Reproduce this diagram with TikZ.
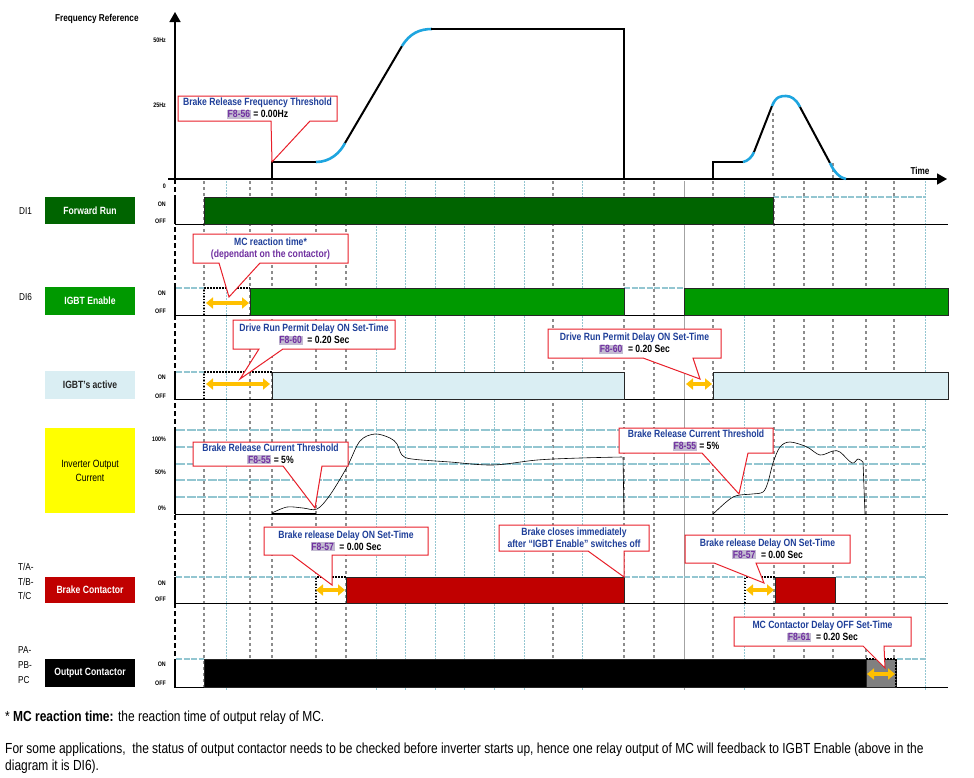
\documentclass[tikz,border=0pt]{standalone}
\usepackage{fontspec}
\setmainfont{Liberation Sans}[FakeStretch=0.82]
\usetikzlibrary{arrows.meta}
\definecolor{fwd}{HTML}{006400}
\definecolor{igbt}{HTML}{009900}
\definecolor{act}{HTML}{DAEEF3}
\definecolor{brk}{HTML}{C00000}
\definecolor{yel}{HTML}{FFFF00}
\definecolor{gteal}{HTML}{93C6D1}
\definecolor{gridgray}{HTML}{8C8C8C}
\definecolor{cblue}{HTML}{1F3F99}
\definecolor{pur}{HTML}{7030A0}
\definecolor{hl}{HTML}{C3BBD1}
\definecolor{sky}{HTML}{1EA5DF}
\definecolor{orng}{HTML}{FFC000}
\definecolor{cred}{HTML}{E8202A}
\newcommand\codebox[1]{{\fboxsep=0.8pt\colorbox{hl}{\textcolor{pur}{#1}}}}
\newcommand\callpath[8]{\draw[cbox] (#1,#2) -- (#3,#2) -- (#3,#4) -- (#6,#4) -- (#7,#8) -- (#5,#4) -- (#1,#4) -- cycle;}
\begin{document}
\begin{tikzpicture}[x=1pt,y=-1pt,
  gridd/.style={gridgray, line width=1.4pt, dash pattern=on 3pt off 3pt},
  gridt/.style={gteal, line width=0.9pt, dash pattern=on 1.5pt off 1.5pt},
  gridh/.style={gteal, line width=1.6pt, dash pattern=on 9pt off 1.5pt},
  onl/.style={gteal, line width=1.4pt, dash pattern=on 6pt off 1.5pt},
  base/.style={black, line width=1pt},
  bar/.style={draw=black!85, line width=0.7pt},
  dotbox/.style={black, line width=1.2pt, dash pattern=on 1.5pt off 1.5pt},
  lbox/.style={minimum width=90pt, inner sep=0pt, font=\fontsize{10.5}{12}\selectfont\bfseries, text=white},
  sig/.style={font=\fontsize{10}{12}\selectfont, anchor=west, inner sep=0pt},
  onoff/.style={font=\fontsize{6.5}{7}\selectfont\bfseries, anchor=east, inner sep=0pt},
  ylab/.style={font=\fontsize{6.5}{7}\selectfont\bfseries, anchor=east, inner sep=0pt},
  fline/.style={black, line width=2pt},
  bline/.style={sky, line width=2.6pt},
  cur/.style={black, line width=0.6pt},
  oarr/.style={orng, line width=3.5pt, {Triangle[length=7pt,width=11pt]}-{Triangle[length=7pt,width=11pt]}},
  cbox/.style={draw=cred, fill=white, line width=1pt},
  ctext/.style={align=center, font=\fontsize{10.5}{12}\selectfont\bfseries, text=cblue, inner sep=0pt},
  foot/.style={font=\fontsize{14.6}{16}\selectfont, anchor=west, inner sep=0pt}
]
\useasboundingbox (0,0) rectangle (974,777);

% ---------- vertical grid ----------
\foreach \x in {204,250,272,316,346,553,624,654,713,774,804,833,866,894}
  \draw[gridd] (\x,181) -- (\x,690);
\foreach \x in {226,376,405,435,464,494,524,582,744,925}
  \draw[gridt] (\x,181) -- (\x,690);
\draw[gridgray!80, line width=1pt] (684,181) -- (684,690);
\draw[gridd] (773,113) -- (773,179);
\draw[gridd] (833,163) -- (833,179);

% ---------- current section horizontal grid ----------
\foreach \y in {430,447,464,480,497}
  \draw[gridh] (176,\y) -- (925,\y);

% ---------- ON-level lines ----------
\draw[onl] (773,197) -- (925,197);
\draw[onl] (176,288) -- (204,288);
\draw[onl] (624,288) -- (684,288);
\draw[onl] (176,372) -- (204,372);
\draw[onl] (176,577) -- (316,577);
\draw[onl] (624,577) -- (745,577);
\draw[onl] (836,577) -- (925,577);
\draw[onl] (176,659) -- (204,659);
\draw[onl] (897,659) -- (925,659);

% ---------- axes ----------
\draw[black, line width=1.6pt, -{Triangle[length=10pt,width=11pt]}] (175,179) -- (175,12);
\draw[black, line width=1.6pt, -{Triangle[length=10pt,width=11pt]}] (168,179) -- (947,179);
\draw[black, line width=1.4pt, dash pattern=on 5pt off 3pt] (175,179) -- (175,690);
\foreach \a/\b in {197/224,288/315,372/399,428/514,577/603,659/687}
  \draw[black, line width=1.4pt] (175,\a) -- (175,\b);

% ---------- baselines ----------
\foreach \y in {224,315,399,514,603,687}
  \draw[base] (175,\y) -- (948,\y);

% ---------- bars ----------
\draw[bar, fill=fwd] (204,197) rectangle (773,224);
\draw[bar, fill=igbt] (250,288) rectangle (624,315);
\draw[bar, fill=igbt] (684,288) rectangle (948,315);
\draw[bar, fill=act] (272,372) rectangle (624,399);
\draw[bar, fill=act] (713,372) rectangle (948,399);
\draw[bar, fill=brk] (346,577) rectangle (624,603);
\draw[bar, fill=brk] (775,577) rectangle (835,603);
\draw[bar, fill=black] (204,659) rectangle (866,687);
\draw[bar, fill=gray] (866,659) rectangle (896,687);

% ---------- dotted delay boxes ----------
\draw[dotbox] (204,315) -- (204,288) -- (250,288);
\draw[dotbox] (204,399) -- (204,372) -- (272,372);
\draw[dotbox] (316,603) -- (316,577) -- (346,577);
\draw[dotbox] (745,603) -- (745,577) -- (775,577);
\draw[dotbox] (866,659) -- (896,659) -- (896,687);

% ---------- orange arrows ----------
\draw[oarr] (206,303) -- (249,303);
\draw[oarr] (206,384) -- (270,384);
\draw[oarr] (686,384) -- (712,384);
\draw[oarr] (316,590) -- (345,590);
\draw[oarr] (746,590) -- (774,590);
\draw[oarr] (867,674) -- (895,674);

% ---------- frequency reference ----------
\draw[fline] (272,179) -- (272,162) -- (316,162);
\draw[bline] (316,162) .. controls (330,162) and (340,153) .. (345,143);
\draw[fline] (345,143) -- (402,46);
\draw[bline] (402,46) .. controls (410,33) and (420,29) .. (432,29);
\draw[fline] (431,29) -- (624,29) -- (624,179);
\draw[fline] (713,179) -- (713,162) -- (743,162);
\draw[bline] (743,162) .. controls (748,161) and (752,157) .. (754,152);
\draw[fline] (754,152) -- (772,106);
\draw[bline] (772,106) .. controls (776,96) and (781,96) .. (786,96) .. controls (791,96) and (796,99) .. (800,107);
\draw[fline] (800,107) -- (830,163);
\draw[bline] (830,163) .. controls (834,172) and (840,178) .. (846,179);

% ---------- inverter output current ----------
\draw[black, line width=2pt] (272,514) -- (316,514);
\draw[cur] plot[smooth, tension=0.55] coordinates {(272,513) (287,507) (303,508) (317,509) (330,495) (347,467) (360,441) (375,434) (390,438) (397,444) (402,455) (412,459) (450,462) (493,465) (537,460) (580,458) (622,457)};
\draw[cur] (623,457) -- (624,514);
\draw[cur] plot[smooth, tension=0.55] coordinates {(713,514) (725,503) (733,497) (740,495) (752,494) (763,492) (768,482) (773,463) (780,447) (790,442) (807,447) (820,455) (833,451) (840,452) (852,463) (858,459) (863,462)};
\draw[cur] (863,462) -- (865,514);

% ---------- callouts ----------
\callpath{178}{96}{337}{121}{271}{310}{272}{162}
\node[ctext] (t1) at (257.5,108.5) {Brake Release Frequency Threshold\\\codebox{F8-56} \textcolor{black}{= 0.00Hz}};
\callpath{193}{234}{348}{263}{219}{260}{229}{297}
\node[ctext] (t2) at (270.5,248.5) {MC reaction time*\\\textcolor{pur}{(dependant on the contactor)}};
\callpath{233}{320}{395}{349}{259}{283}{240}{379}
\node[ctext] (t3) at (314,334.5) {Drive Run Permit Delay ON Set-Time\\\codebox{F8-60}\ \ \textcolor{black}{= 0.20 Sec}};
\callpath{548}{329}{721}{358}{643}{693}{700}{379}
\node[ctext] (t4) at (634.5,343.5) {Drive Run Permit Delay ON Set-Time\\\codebox{F8-60}\ \ \textcolor{black}{= 0.20 Sec}};
\callpath{193}{442}{348}{466}{283}{322}{315}{508}
\node[ctext] (t5) at (270.5,454) {Brake Release Current Threshold\\\codebox{F8-55} \textcolor{black}{= 5\%}};
\callpath{619}{428}{773}{453}{702}{748}{739}{494}
\node[ctext] (t6) at (696,440.5) {Brake Release Current Threshold\\\codebox{F8-55} \textcolor{black}{= 5\%}};
\callpath{264}{527}{428}{555}{292}{332}{332}{585}
\node[ctext] (t7) at (346,541) {Brake release Delay ON Set-Time\\\codebox{F8-57}\ \ \textcolor{black}{= 0.00 Sec}};
\callpath{499}{525}{649}{551}{588}{624}{624}{577}
\node[ctext] (t8) at (574,538) {Brake closes immediately\\after “IGBT Enable” switches off};
\callpath{685}{535}{850}{563}{714}{756}{764}{583}
\node[ctext] (t9) at (767.5,549) {Brake release Delay ON Set-Time\\\codebox{F8-57}\ \ \textcolor{black}{= 0.00 Sec}};
\callpath{734}{617}{911}{646}{863}{884}{885}{668}
\node[ctext] (t10) at (822.5,631.5) {MC Contactor Delay OFF Set-Time\\\codebox{F8-61}\ \ \textcolor{black}{= 0.20 Sec}};

% ---------- axis labels ----------
\node[font=\fontsize{10}{12}\selectfont\bfseries, anchor=west, inner sep=0pt] (freq) at (55,19) {Frequency Reference};
\node[font=\fontsize{10}{12}\selectfont\bfseries, inner sep=0pt] (time) at (920,171) {Time};
\node[ylab] (y50) at (166,40) {50Hz};
\node[ylab] (y25) at (166,105) {25Hz};
\node[ylab] (y0) at (166,186) {0};
\node[ylab] (c100) at (166,439) {100\%};
\node[ylab] (c50) at (166,472) {50\%};
\node[ylab] (c0) at (166,508) {0\%};

% ---------- ON / OFF ----------
\foreach \n/\a/\b in {r1/204/221, r2/293/311, r3/377/396, r4/583/599, r5/664/683}{
  \node[onoff] (on\n) at (166,\a) {ON};
  \node[onoff] (off\n) at (166,\b) {OFF};
}

% ---------- left label boxes ----------
\node[lbox, fill=fwd, minimum height=27pt] (lfwd) at (90,210.5) {Forward Run};
\node[lbox, fill=igbt, minimum height=28pt] (ligbt) at (90,301) {IGBT Enable};
\node[lbox, fill=act, minimum height=28pt, text=black!85] (lact) at (90,385) {IGBT's active};
\node[lbox, fill=yel, minimum height=85pt, text=black, align=center, font=\fontsize{10.5}{14}\selectfont] (lcur) at (90,470.5) {Inverter Output\\Current};
\node[lbox, fill=brk, minimum height=26pt] (lbrk) at (90,590) {Brake Contactor};
\node[lbox, fill=black, minimum height=28pt] (lout) at (90,673) {Output Contactor};

\node[sig] (di1) at (19,211) {DI1};
\node[sig] (di6) at (19,297) {DI6};
\node[sig] (ta) at (18,567) {T/A-};
\node[sig] (tb) at (18,582) {T/B-};
\node[sig] (tc) at (18,596) {T/C};
\node[sig] (pa) at (18,650) {PA-};
\node[sig] (pb) at (18,665) {PB-};
\node[sig] (pc) at (18,680) {PC};

% ---------- footnotes ----------
\node[foot] (f1) at (5,718) {* \textbf{MC reaction time:} the reaction time of output relay of MC.};
\node[foot] (f2) at (5,750) {For some applications,\ \ the status of output contactor needs to be checked before inverter starts up, hence one relay output of MC will feedback to IGBT Enable (above in the};
\node[foot] (f3) at (5,767) {diagram it is DI6).};
\end{tikzpicture}
\end{document}
